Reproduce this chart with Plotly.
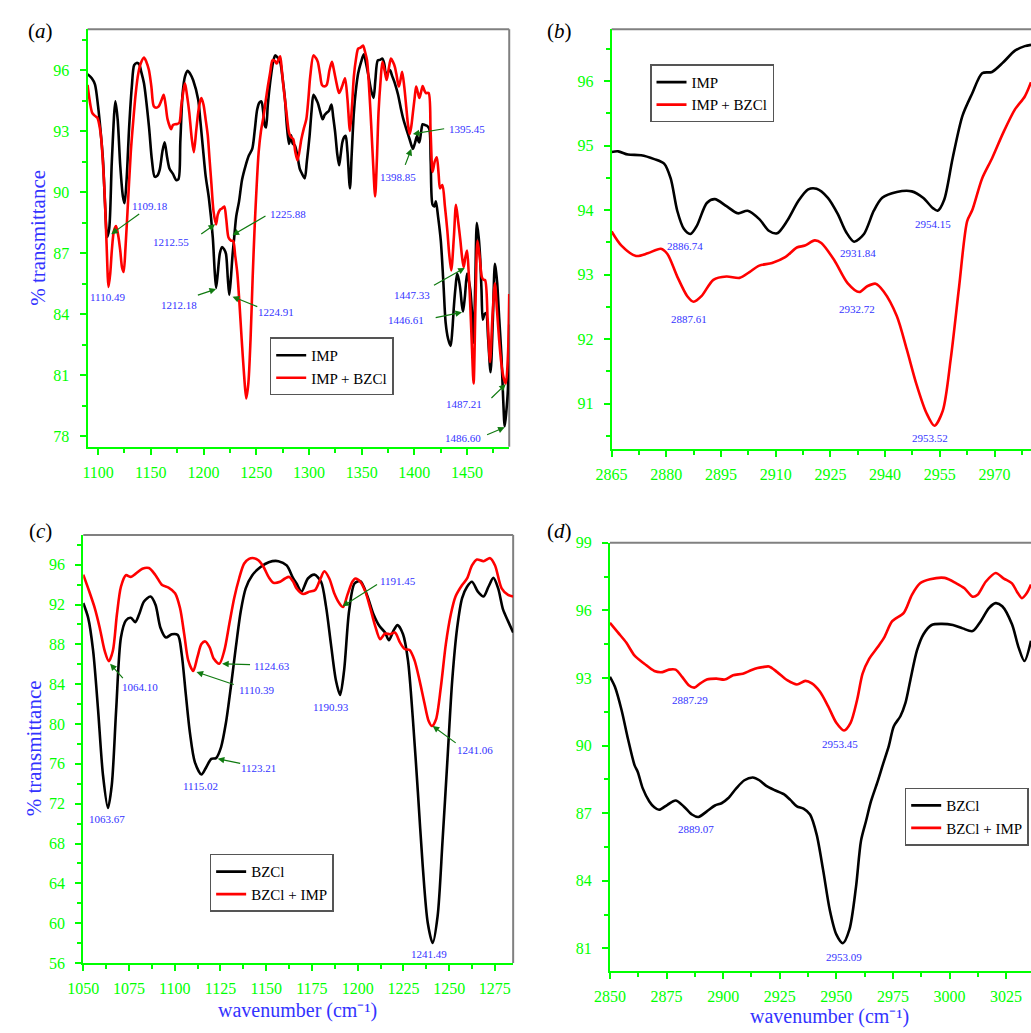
import plotly.graph_objects as go

W, H = 1031, 1033
GREEN = "#00ff00"
BLUE = "#3333ff"
ARROW = "#107a10"
FONT = "Liberation Serif, Times New Roman, serif"

# ---------------- Panel (a): IMP vs IMP + BZCl ----------------
a_imp_x = [1090, 1094, 1097, 1100, 1102, 1104.6, 1106.5, 1108.6, 1110.5, 1113, 1116.4, 1118.5, 1121, 1123.5, 1125.1,
           1127, 1129.5, 1132, 1134.2, 1136.5, 1138.8, 1141, 1143.5, 1148.2, 1151, 1153.7, 1156, 1158.4, 1161, 1163.1,
           1165.5, 1167.8, 1171, 1174, 1176.2, 1178, 1180.2, 1182.5, 1184.9, 1187.5, 1190.2, 1194.9, 1197, 1199.5,
           1202, 1205.1, 1208.8, 1210.5, 1211.9, 1213.5, 1215.5, 1217.5, 1219.5, 1221.3, 1223, 1224.4, 1226, 1227.5,
           1229.1, 1231, 1233.7, 1236.5, 1240, 1243, 1246.2, 1248.5, 1250.9, 1253, 1254.9, 1256.5, 1258, 1259.3,
           1261, 1263.3, 1266, 1268, 1270.5, 1272.7, 1275, 1277.3, 1279, 1281.1, 1283, 1284.5, 1286.7, 1289, 1291.3,
           1293.5, 1296, 1298, 1300.6, 1302.5, 1304.3, 1306.5, 1308.4, 1310.5, 1313, 1315, 1316.8, 1319, 1321.4,
           1323, 1324.9, 1326.8, 1328.6, 1330, 1331.7, 1333.3, 1334.8, 1336.5, 1338.9, 1340.5, 1342.6, 1344.5,
           1346.7, 1349.5, 1352, 1354.3, 1356.6, 1359, 1361.3, 1363, 1365.3, 1367.5, 1369.7, 1371.5, 1373.1, 1375,
           1376.8, 1379, 1381.5, 1384.5, 1387.1, 1389.5, 1392.4, 1395.5, 1398.6, 1400.5, 1402.6, 1404, 1404.8,
           1406.5, 1407.9, 1410, 1412, 1414.2, 1415.5, 1417.3, 1419, 1420.4, 1422.5, 1425.1, 1427.5, 1429.7, 1432,
           1434.4, 1436, 1437.5, 1439, 1440.6, 1442.2, 1443.7, 1445, 1446.2, 1448, 1450, 1451.5, 1453.1, 1454.8,
           1456.2, 1457.8, 1459.3, 1461, 1462.4, 1463.7, 1464.9, 1466.5, 1468, 1470, 1472.3, 1474.5, 1476.4, 1477.5,
           1478.6, 1480.5, 1482.6, 1484.3, 1485.7, 1487.2, 1488.8, 1490]
a_imp_y = [95.8, 95.6, 95.3, 94.2, 93.2, 91.6, 89.5, 87.8, 88.2, 91.5, 94.46, 93.6, 91.3, 89.8, 89.46,
           90.6, 93.25, 95.2, 96.24, 96.35, 96.3, 95.9, 95.35, 93.25, 91.6, 90.76, 90.8, 91.1, 92.0, 92.45,
           91.7, 91.15, 90.9, 90.6, 90.64, 92.5, 94.87, 95.7, 95.96, 95.8, 95.5, 94.55, 93.5, 92.13,
           90.8, 89.7, 87.77, 86.2, 85.3, 86.0, 87.0, 87.3, 87.2, 86.97, 85.8, 84.95, 85.8, 86.9,
           87.77, 88.8, 89.55, 90.6, 91.32, 91.8, 92.13, 93.0, 94.06, 94.4, 94.46, 94.0, 93.3, 93.18,
           94.3, 95.43, 96.4, 96.72, 96.6, 96.4, 95.6, 94.55, 93.3, 92.37, 92.8, 92.4, 92.29, 91.8, 91.15,
           90.9, 90.68, 91.5, 92.77, 94.0, 94.79, 94.6, 94.39, 94.0, 93.58, 93.8, 93.9, 94.0, 94.3,
           93.7, 92.93, 91.9, 91.32, 91.8, 92.45, 92.7, 92.77, 92.0, 90.19, 91.8, 93.9, 95.0,
           95.84, 96.4, 96.77, 96.3, 95.68, 95.0, 94.63, 95.5, 96.48, 96.5, 96.56, 96.3, 95.76, 95.9,
           96.0, 95.7, 95.35, 94.8, 94.14, 93.6, 93.1, 92.6, 92.13, 92.4, 92.77, 92.5, 92.45,
           93.0, 93.34, 93.3, 93.26, 93.1, 91.5, 89.38, 89.3, 89.55, 88.8, 87.61, 85.6, 83.58, 82.8,
           82.45, 83.2, 84.38, 85.3, 86.0, 85.7, 85.19, 84.5, 84.14, 84.9, 86.0, 85.7, 85.19, 84.0,
           82.61, 85.5, 88.5, 87.8, 86.8, 85.2, 83.74, 84.0, 84.06, 82.8, 81.16, 83.8, 86.48, 86.1,
           85.52, 83.8, 81.97, 79.8, 78.5, 79.2, 80.35, 83.5]

a_mix_x = [1090, 1092, 1094.4, 1097, 1099.3, 1101.5, 1103, 1104.5, 1106.1, 1108, 1109.9, 1111.5, 1113, 1115, 1117,
           1119, 1121, 1122.7, 1124.2, 1126, 1127.9, 1131, 1133.5, 1135.7, 1138, 1140.4, 1143.5, 1145.8, 1148.2,
           1150.5, 1152.8, 1155, 1157.5, 1160, 1162.2, 1164, 1165.9, 1169.3, 1171, 1173.1, 1175, 1177.1, 1178.8,
           1180.2, 1182.4, 1184.5, 1186.5, 1188.7, 1190.8, 1193, 1194.9, 1196.5, 1198, 1200, 1202, 1204, 1205.7,
           1207.5, 1209.5, 1211.9, 1213.5, 1215.7, 1217.5, 1219.7, 1221.5, 1223.7, 1226, 1228.1, 1230, 1232.1,
           1234, 1236.2, 1238.5, 1240.5, 1242.5, 1244.6, 1246.6, 1248.6, 1250.5, 1252.3, 1254.5, 1257, 1259, 1261,
           1263.3, 1265.4, 1267.5, 1269.5, 1271, 1272.7, 1274.3, 1275.8, 1278.5, 1281.1, 1283, 1285.1, 1287,
           1289.2, 1292.8, 1295, 1297.5, 1299.5, 1301.2, 1304.3, 1306.5, 1308.4, 1310.5, 1312.4, 1314.6, 1316.8,
           1319.5, 1321.8, 1323.3, 1324.9, 1326.8, 1328.6, 1331.5, 1334.2, 1336.5, 1338.9, 1340.8, 1342.6, 1344.5,
           1346.7, 1349, 1351.3, 1353.2, 1355.1, 1357, 1359.1, 1361, 1362.8, 1364.4, 1366, 1368, 1369.7, 1371.7,
           1373.7, 1375.8, 1377.8, 1379.7, 1381.5, 1383.3, 1385.2, 1386.8, 1388.4, 1390.4, 1392.4, 1394, 1395.5,
           1397, 1398.6, 1400.2, 1401.7, 1403.3, 1404.8, 1406.3, 1407.9, 1409.5, 1411, 1413.5, 1415.4, 1417.3,
           1419.3, 1421.3, 1423, 1424.4, 1426.6, 1429, 1431.3, 1433, 1435, 1437.5, 1439.5, 1441.7, 1443.7, 1445.3,
           1446.8, 1448.4, 1450, 1451.6, 1453.1, 1454.7, 1456.2, 1458, 1459.9, 1462, 1464, 1465.5, 1467.1, 1469.5,
           1471.8, 1474, 1476.4, 1478.4, 1480.4, 1482.5, 1484.6, 1486.7, 1488.8, 1490]
a_mix_y = [95.27, 94.5, 93.9, 93.75, 93.66, 93.2, 92.61, 91.5, 90.03, 87.5, 85.35, 86.0, 87.13, 88.1, 88.34,
           87.9, 87.13, 86.3, 86.08, 87.3, 89.06, 91.97, 93.6, 94.87, 95.8, 96.32, 96.61, 96.4, 96.0,
           95.2, 94.22, 94.15, 94.22, 94.5, 94.79, 94.3, 93.58, 93.1, 93.3, 93.34, 93.35, 93.42, 94.2,
           94.71, 95.35, 94.7, 93.9, 92.7, 91.97, 93.0, 93.9, 94.4, 94.63, 94.3, 93.58, 92.8, 91.64,
           90.4, 89.06, 88.42, 88.9, 89.14, 89.2, 89.3, 88.7, 87.77, 87.62, 87.61, 86.9, 86.0,
           84.6, 82.77, 81.0, 79.87, 80.6, 82.77, 85.8, 88.42, 90.4, 91.97, 93.0, 93.74, 94.5, 95.19,
           95.9, 96.48, 96.45, 96.32, 96.5, 96.68, 96.0, 95.19, 94.0, 92.93, 92.7, 92.61, 92.0,
           91.56, 92.6, 93.1, 93.58, 94.6, 95.68, 96.72, 96.6, 96.4, 95.8, 95.27, 95.2, 95.27,
           96.0, 96.4, 96.1, 95.68, 95.2, 94.87, 95.2, 95.6, 94.6, 93.01, 94.2, 95.68, 96.5,
           97.05, 97.1, 97.21, 96.9, 96.48, 95.2, 93.26, 91.3, 89.79, 91.5, 93.9, 95.5, 96.4, 96.0,
           95.51, 96.1, 96.56, 96.4, 96.16, 95.7, 95.19, 95.5, 95.92, 95.2, 94.14, 93.3, 92.85,
           93.2, 93.9, 94.6, 95.19, 94.9, 94.63, 94.9, 95.22, 95.0, 94.87, 94.87, 93.0, 91.0,
           91.5, 91.72, 90.9, 90.19, 90.35, 89.3, 88.1, 87.0, 86.16, 87.8, 89.38, 88.5, 87.61, 86.8,
           86.32, 86.8, 87.13, 86.0, 84.38, 82.3, 80.6, 84.5, 87.61, 86.8, 85.84, 85.7, 85.68, 83.8,
           81.65, 83.8, 85.52, 84.2, 82.77, 81.6, 80.9, 80.6, 81.97, 85.0]

# ---------------- Panel (b): IMP vs IMP + BZCl (C-H region) ----------------
b_imp_x = [2865, 2866.8, 2869.5, 2873.1, 2876.7, 2879.4, 2881.2, 2883, 2884.8, 2886.6, 2888.4, 2891.1, 2893.3,
           2896.5, 2899.6, 2902.3, 2905.5, 2908.1, 2910.4, 2913.1, 2916.2, 2918.9, 2921.2, 2924.3, 2927, 2929.3,
           2931.5, 2934.2, 2936.9, 2939.2, 2943.2, 2947.3, 2950.4, 2953.1, 2954.4, 2956.2, 2958.5, 2961.2,
           2963.9, 2966.6, 2969.3, 2972.4, 2975.6, 2978.3, 2980]
b_imp_y = [94.9, 94.91, 94.86, 94.85, 94.79, 94.72, 94.49, 93.99, 93.71, 93.63, 93.76, 94.11, 94.17,
           94.06, 93.95, 93.99, 93.86, 93.68, 93.64, 93.83, 94.14, 94.32, 94.33, 94.19, 93.94, 93.66,
           93.51, 93.63, 93.99, 94.19, 94.28, 94.29, 94.19, 94.03, 93.99, 94.16, 94.8, 95.46,
           95.81, 96.12, 96.14, 96.29, 96.47, 96.54, 96.56]
b_mix_x = [2865, 2867.7, 2871.7, 2874.9, 2878.5, 2880.3, 2883, 2885.7, 2887.5, 2889.7, 2892.9, 2896.5, 2900.1,
           2902.8, 2905.5, 2909, 2912.6, 2915.8, 2918, 2920.7, 2922.5, 2926.1, 2929.7, 2932.9, 2935.1, 2937.4,
           2939.6, 2943.2, 2945.9, 2948.6, 2951.3, 2953.5, 2955.8, 2958, 2960.3, 2962.5, 2963.9, 2966.6, 2969.3,
           2972.4, 2975.6, 2978.3, 2980]
b_mix_y = [93.67, 93.45, 93.29, 93.33, 93.4, 93.32, 92.97, 92.67, 92.58, 92.67, 92.92, 92.97, 92.95,
           93.04, 93.14, 93.18, 93.27, 93.42, 93.45, 93.53, 93.49, 93.22, 92.87, 92.73, 92.82, 92.86,
           92.74, 92.36, 91.85, 91.3, 90.86, 90.66, 90.89, 91.7, 92.82, 93.83, 94.0, 94.49, 94.8,
           95.2, 95.56, 95.76, 95.98]

# ---------------- Panel (c): BZCl vs BZCl + IMP ----------------
c_bz_x = [1050, 1052.7, 1055.4, 1058.1, 1060.8, 1063.5, 1065.6, 1068, 1070.6, 1073.3, 1076, 1078.4, 1080.5,
          1083.2, 1086.8, 1089.5, 1092.2, 1095.2, 1098.4, 1101.7, 1103.8, 1106, 1108.3, 1111, 1114.6, 1117.3,
          1120, 1122.6, 1125.3, 1128, 1130.7, 1133.4, 1136.1, 1138.8, 1142.4, 1146.9, 1151.4, 1156.7, 1161.2,
          1164.8, 1166.6, 1169.3, 1172.8, 1176.4, 1180, 1182.7, 1185.4, 1188.1, 1190.4, 1192.6, 1195.3, 1198.3,
          1201.5, 1205.1, 1208.7, 1211.9, 1215, 1217.1, 1219.5, 1221.8, 1224.8, 1227.5, 1230.2, 1232.9, 1235.6,
          1238.3, 1241, 1243.7, 1246.4, 1249.1, 1251.7, 1254.4, 1257.1, 1259.8, 1262.5, 1265.7, 1268.8, 1271.5,
          1274.2, 1276.8, 1279.5, 1282.2, 1285]
c_bz_y = [92.15, 90.67, 87.37, 81.45, 74.86, 71.57, 73.88, 81.45, 88.69, 90.4, 90.67, 90.24, 91.0,
          92.31, 92.81, 91.98, 89.68, 88.69, 89.02, 88.95, 87.05, 83.1, 79.14, 76.18, 74.93, 75.69,
          76.51, 76.58, 77.66, 80.13, 83.75, 87.7, 91.33, 93.63, 94.95, 95.77, 96.26, 96.36, 95.93,
          94.62, 94.12, 93.3, 94.62, 95.01, 94.29, 91.82, 88.03, 84.41, 82.93, 85.4, 91.33, 94.12,
          94.35, 92.97, 91.0, 89.84, 89.19, 88.43, 89.35, 89.94, 89.02, 86.39, 80.46, 73.22, 65.65,
          60.05, 58.01, 60.71, 68.28, 76.51, 84.41, 89.68, 92.64, 93.79, 94.29, 93.3, 92.81, 93.79,
          94.68, 93.63, 91.49, 90.34, 89.19]
c_mix_x = [1050, 1052.7, 1056.3, 1059, 1061.7, 1064, 1066.2, 1068.4, 1070.6, 1073.3, 1076, 1078.7, 1082.3,
           1085.9, 1089.5, 1093.1, 1096.6, 1100.2, 1102.9, 1105.2, 1107.4, 1110.1, 1112.4, 1114.6, 1116.7,
           1119.1, 1121.4, 1124.4, 1127.1, 1129.8, 1132.5, 1135.2, 1137.9, 1140.6, 1143.3, 1145.9, 1148.6,
           1151.3, 1154, 1157.6, 1160.3, 1162.6, 1164.8, 1166.6, 1170.2, 1173.7, 1176.8, 1179.7, 1181.8,
           1184.5, 1187.2, 1189.9, 1192, 1194.4, 1197.1, 1198.8, 1201.5, 1204.2, 1206.9, 1209.6, 1212.3,
           1215, 1217.7, 1220.4, 1223.1, 1225.7, 1228.4, 1231.1, 1233.8, 1236.5, 1238.8, 1240.6, 1242.8,
           1245.5, 1248.2, 1250.9, 1253.5, 1257.1, 1259.8, 1262.5, 1265.2, 1268.8, 1272.4, 1275.1, 1278.7,
           1282.2, 1285]
c_mix_y = [95.01, 93.63, 91.65, 89.68, 87.37, 86.32, 87.37, 91.0, 93.79, 94.95, 94.78, 95.11, 95.6,
           95.67, 94.95, 93.96, 93.7, 93.14, 91.65, 89.02, 86.39, 85.33, 86.72, 88.03, 88.3,
           87.7, 86.55, 86.06, 87.37, 90.01, 92.64, 94.62, 96.1, 96.59, 96.66, 96.43, 95.77,
           94.78, 94.19, 94.29, 94.62, 94.78, 94.29, 93.63, 93.07, 93.3, 93.47, 94.62, 95.34,
           94.62, 93.14, 92.15, 91.75, 92.97, 94.29, 94.62, 94.29, 93.3, 91.65, 89.84, 88.53,
           89.09, 89.02, 89.19, 88.2, 87.54, 87.44, 86.39, 84.41, 82.11, 80.3, 79.8, 80.46,
           83.75, 88.03, 91.0, 92.81, 93.96, 94.62, 95.93, 96.53, 96.36, 96.66, 95.93, 93.63,
           92.97, 92.81]

# ---------------- Panel (d): BZCl vs BZCl + IMP (C-H region) ----------------
d_bz_x = [2850, 2852.2, 2855.1, 2858, 2860.9, 2862.3, 2864.5, 2867.4, 2869.6, 2871.7, 2875.4, 2879, 2882.6,
          2886.2, 2889.1, 2892.8, 2896.4, 2899.3, 2902.2, 2905.8, 2909.4, 2913.1, 2916, 2918.9, 2922.5, 2926.8,
          2929.7, 2932.6, 2935.5, 2938.4, 2941.3, 2944.2, 2947.1, 2950, 2952.9, 2955.8, 2958.7, 2960.9, 2963.1,
          2965.3, 2968.2, 2970.7, 2973.2, 2975.4, 2978.3, 2980.5, 2982.7, 2985.6, 2988.5, 2992.1, 2996.4, 3001.5,
          3005.8, 3010.2, 3013.8, 3017.4, 3020.4, 3023.3, 3027.6, 3030.5, 3033.1, 3036]
d_bz_y = [93.05, 92.61, 91.59, 90.28, 89.12, 88.83, 88.1, 87.52, 87.26, 87.15, 87.37, 87.56, 87.3,
          86.94, 86.83, 87.08, 87.34, 87.44, 87.66, 88.1, 88.46, 88.58, 88.46, 88.22, 88.03, 87.84,
          87.59, 87.3, 87.2, 86.94, 86.06, 84.46, 82.71, 81.62, 81.23, 81.84, 83.73, 85.77, 86.64,
          87.52, 88.39, 89.2, 89.99, 90.86, 91.3, 91.88, 92.9, 94.21, 94.94, 95.35, 95.4, 95.35,
          95.2, 95.08, 95.52, 96.1, 96.32, 96.18, 95.38, 94.36, 93.75, 94.65]
d_mix_x = [2850, 2853.6, 2857.2, 2860.9, 2865.2, 2869.6, 2873.2, 2876.1, 2879, 2881.9, 2884.8, 2887.3, 2889.9,
           2892.8, 2897.1, 2900.7, 2904.4, 2908.7, 2912.3, 2915.2, 2917.4, 2920.3, 2923.9, 2928.3, 2932.6,
           2936.3, 2939.2, 2942.8, 2946.4, 2950, 2953.4, 2956.3, 2959.2, 2961.6, 2964.5, 2968.2, 2971.1,
           2974.7, 2979.8, 2983.4, 2987, 2991.4, 2997.9, 3003, 3006.6, 3010.2, 3012.4, 3016, 3020.4, 3024,
           3027.6, 3029.8, 3032, 3034.1, 3036]
d_mix_y = [95.45, 95.01, 94.57, 93.99, 93.63, 93.31, 93.26, 93.37, 93.37, 93.05, 92.68, 92.57, 92.76,
           92.93, 92.97, 92.93, 93.12, 93.19, 93.34, 93.44, 93.48, 93.51, 93.26, 92.9, 92.71,
           92.87, 92.76, 92.39, 91.74, 91.01, 90.67, 91.01, 92.03, 93.19, 93.85, 94.36, 94.79,
           95.52, 95.89, 96.69, 97.2, 97.38, 97.44, 97.2, 96.98, 96.61, 96.69, 97.27, 97.66, 97.41,
           97.2, 96.83, 96.54, 96.76, 97.15]

# ---------------- Peak labels ----------------
# (label, text_x, text_y, arrow_head_x, arrow_head_y, arrow_tail_x, arrow_tail_y) ; None = no arrow
a_labels = [
    ("1109.18", 1149.1, 89.34, 1112.4, 87.94, 1140.4, 88.98),
    ("1212.55", 1169.3, 87.56, 1211.0, 88.42, 1196.4, 87.89),
    ("1225.88", 1279.7, 88.95, 1227.5, 87.89, 1260.2, 88.87),
    ("1395.45", 1449.9, 93.10, 1398.6, 92.86, 1429.7, 93.13),
    ("1398.85", 1384.6, 90.76, 1397.1, 92.13, 1390.8, 91.27),
    ("1110.49", 1109.2, 84.87, None, None, None, None),
    ("1212.18", 1177.1, 84.44, 1211.9, 85.24, 1193.2, 84.92),
    ("1224.91", 1268.8, 84.13, 1227.5, 84.87, 1252.4, 84.35),
    ("1447.33", 1397.6, 84.95, 1447.8, 86.28, 1417.2, 85.39),
    ("1446.61", 1392.4, 83.74, 1445.2, 84.10, 1418.8, 83.82),
    ("1487.21", 1447.5, 79.60, 1486.7, 80.57, 1471.7, 79.82),
    ("1486.60", 1445.9, 77.91, 1485.7, 78.45, 1467.6, 78.05),
]
b_labels = [
    ("2886.74", 2885.2, 93.44), ("2931.84", 2932.6, 93.33), ("2954.15", 2953.1, 93.79),
    ("2887.61", 2886.1, 92.31), ("2932.72", 2932.2, 92.46), ("2953.52", 2952.4, 90.47),
]
c_labels = [
    ("1064.10", 1081.0, 83.68, 1064.7, 86.05, 1072.4, 84.47),
    ("1124.63", 1153.1, 85.80, 1125.9, 86.05, 1142.0, 85.96),
    ("1110.39", 1144.7, 83.43, 1111.9, 85.23, 1133.1, 83.92),
    ("1190.93", 1185.4, 81.71, None, None, None, None),
    ("1191.45", 1221.8, 94.39, 1191.7, 91.82, 1211.4, 94.12),
    ("1241.06", 1264.3, 77.40, 1241.0, 79.80, 1254.4, 78.00),
    ("1063.67", 1062.9, 70.49, None, None, None, None),
    ("1115.02", 1114.0, 73.81, None, None, None, None),
    ("1123.21", 1146.0, 75.59, 1123.5, 76.51, 1136.6, 76.02),
    ("1241.49", 1238.8, 56.92, None, None, None, None),
]
d_labels = [
    ("2887.29", 2885.5, 92.03), ("2953.45", 2951.8, 90.07),
    ("2889.07", 2888.0, 86.28), ("2953.09", 2953.3, 80.60),
]

fig = go.Figure()

def add_pair(xk, yk, legend, x1, y1, n1, x2, y2, n2):
    fig.add_trace(go.Scatter(x=x1, y=y1, name=n1, mode="lines", xaxis=xk, yaxis=yk, legend=legend,
                             line=dict(color="black", width=2.6, shape="spline", smoothing=0.8)))
    fig.add_trace(go.Scatter(x=x2, y=y2, name=n2, mode="lines", xaxis=xk, yaxis=yk, legend=legend,
                             line=dict(color="red", width=2.6, shape="spline", smoothing=0.8)))

add_pair("x", "y", "legend", a_imp_x, a_imp_y, "IMP", a_mix_x, a_mix_y, "IMP + BZCl")
add_pair("x2", "y2", "legend2", b_imp_x, b_imp_y, "IMP", b_mix_x, b_mix_y, "IMP + BZCl")
add_pair("x3", "y3", "legend3", c_bz_x, c_bz_y, "BZCl", c_mix_x, c_mix_y, "BZCl + IMP")
add_pair("x4", "y4", "legend4", d_bz_x, d_bz_y, "BZCl", d_mix_x, d_mix_y, "BZCl + IMP")

def px_x(p):
    return p / W

def px_y(p):
    return 1 - p / H

def xaxis(rng, dom, anchor, tick0, dtick):
    return dict(range=rng, domain=dom, anchor=anchor, showline=True, linecolor=GREEN, linewidth=2,
                ticks="outside", tickcolor=GREEN, ticklen=6, tickwidth=1.5, showgrid=False, zeroline=False,
                tickmode="linear", tick0=tick0, dtick=dtick, ticklabelstandoff=4,
                tickfont=dict(family=FONT, size=16, color=GREEN),
                minor=dict(ticks="outside", ticklen=4, tickcolor=GREEN, tickwidth=1.5, tick0=tick0, dtick=dtick / 2))

def yaxis(rng, dom, anchor, tick0, dtick):
    return dict(range=rng, domain=dom, anchor=anchor, showline=True, linecolor=GREEN, linewidth=2,
                ticks="outside", tickcolor=GREEN, ticklen=6, tickwidth=1.5, showgrid=False, zeroline=False,
                tickmode="linear", tick0=tick0, dtick=dtick, ticklabelstandoff=7,
                tickfont=dict(family=FONT, size=16, color=GREEN),
                minor=dict(ticks="outside", ticklen=4, tickcolor=GREEN, tickwidth=1.5, tick0=tick0, dtick=dtick / 2))

dom_a_x = [px_x(72.7), px_x(501)]
dom_a_y = [px_y(446), px_y(21.7)]
dom_b_x = [px_x(605), 1.0]
dom_b_y = [px_y(448.3), px_y(21.7)]
dom_c_x = [px_x(68.3), px_x(505)]
dom_c_y = [px_y(971), px_y(535.7)]
dom_d_x = [px_x(603.3), 1.0]
dom_d_y = [px_y(979), px_y(543.7)]

legend_common = dict(xanchor="left", yanchor="top", bgcolor="white", bordercolor="#555555", borderwidth=1.5,
                     font=dict(family=FONT, size=15, color="black"), tracegroupgap=0, itemwidth=30)

fig.update_layout(
    width=W, height=H, margin=dict(l=0, r=0, t=0, b=0),
    paper_bgcolor="white", plot_bgcolor="white",
    font=dict(family=FONT),
    xaxis=xaxis([1090, 1490], dom_a_x, "y", 1100, 50),
    yaxis=yaxis([77.5, 98], dom_a_y, "x", 78, 3),
    xaxis2=xaxis([2865, 2980], dom_b_x, "y2", 2865, 15),
    yaxis2=yaxis([90.3, 96.8], dom_b_y, "x2", 91, 1),
    xaxis3=xaxis([1050, 1285], dom_c_x, "y3", 1050, 25),
    yaxis3=yaxis([56, 99], dom_c_y, "x3", 56, 4),
    xaxis4=xaxis([2850, 3036], dom_d_x, "y4", 2850, 25),
    yaxis4=yaxis([80, 99], dom_d_y, "x4", 81, 3),
    legend=dict(x=px_x(257.7), y=px_y(335), **legend_common),
    legend2=dict(x=px_x(644), y=px_y(57.3), **legend_common),
    legend3=dict(x=px_x(196.7), y=px_y(860), **legend_common),
    legend4=dict(x=px_x(902.7), y=px_y(792.7), **legend_common),
)

# gray top/right frame lines
shapes = []
for xr, yr, right in [("x", "y", True), ("x2", "y2", False), ("x3", "y3", True), ("x4", "y4", False)]:
    shapes.append(dict(type="line", xref=f"{xr} domain", yref=f"{yr} domain", x0=0, x1=1, y0=1, y1=1,
                       line=dict(color="#808080", width=2), layer="below"))
    if right:
        shapes.append(dict(type="line", xref=f"{xr} domain", yref=f"{yr} domain", x0=1, x1=1, y0=0, y1=1,
                           line=dict(color="#808080", width=2), layer="below"))
fig.update_layout(shapes=shapes)

anns = []

def add_labels(labels, xr, yr):
    for item in labels:
        txt, tx, ty = item[0], item[1], item[2]
        anns.append(dict(x=tx, y=ty, xref=xr, yref=yr, text=txt, showarrow=False,
                         font=dict(family=FONT, size=11, color=BLUE)))
        if len(item) > 3 and item[3] is not None:
            hx, hy, sx, sy = item[3], item[4], item[5], item[6]
            anns.append(dict(x=hx, y=hy, ax=sx, ay=sy, xref=xr, yref=yr, axref=xr, ayref=yr, text="",
                             showarrow=True, arrowhead=2, arrowsize=1.1, arrowwidth=1.2, arrowcolor=ARROW))

add_labels(a_labels, "x", "y")
add_labels(b_labels, "x2", "y2")
add_labels(c_labels, "x3", "y3")
add_labels(d_labels, "x4", "y4")

# panel letters
for letter, px, py in [("a", 25, 23), ("b", 552, 23), ("c", 25, 532), ("d", 552, 532)]:
    anns.append(dict(x=px_x(px), y=px_y(py), xref="paper", yref="paper", text=f"(<i>{letter}</i>)",
                     showarrow=False, xanchor="center", yanchor="middle",
                     font=dict(family=FONT, size=21, color="black")))

# axis titles
for px, py in [(23, 234), (18, 753)]:
    anns.append(dict(x=px_x(px), y=px_y(py), xref="paper", yref="paper", text="% transmittance",
                     textangle=-90, showarrow=False, xanchor="center", yanchor="middle",
                     font=dict(family=FONT, size=21, color=BLUE)))
for px, py in [(286, 1019), (826, 1025)]:
    anns.append(dict(x=px_x(px), y=px_y(py), xref="paper", yref="paper",
                     text="wavenumber (cm\u207b\u00b9)",
                     showarrow=False, xanchor="center", yanchor="middle",
                     font=dict(family=FONT, size=20, color=BLUE)))

fig.update_layout(annotations=anns)

fig.write_html("out.html")
